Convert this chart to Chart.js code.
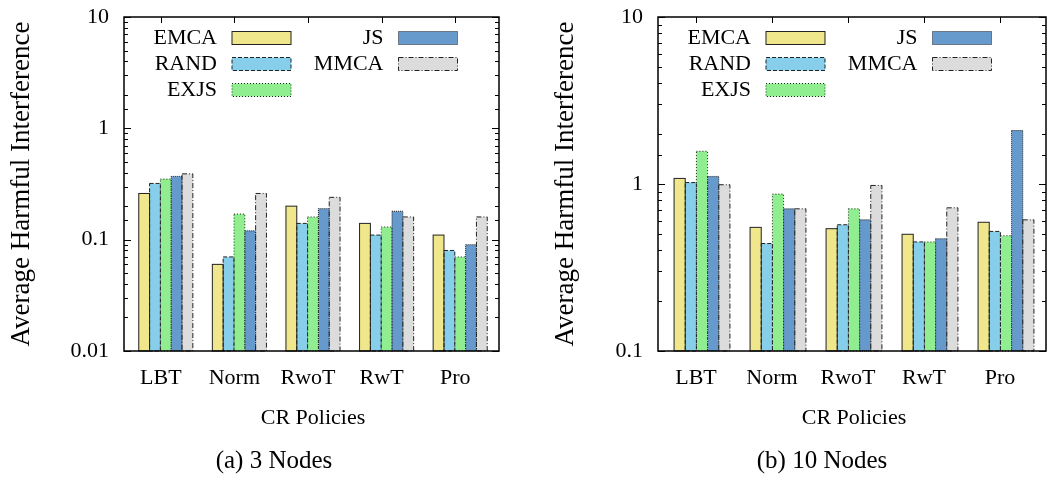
<!DOCTYPE html>
<html>
<head>
<meta charset="utf-8">
<script src="https://cdn.jsdelivr.net/npm/chart.js@4.4.1/dist/chart.umd.min.js"></script>
<style>
body { margin: 0; background: #fff; }
#wrap { position: relative; width: 1048px; height: 480px; }
.panel { position: absolute; top: 0; width: 524px; height: 480px; }
.caption { position: absolute; top: 445px; width: 200px; font: 25px 'Liberation Serif', 'Times New Roman', serif; line-height: 30px; text-align: center; color: #000; }
</style>
</head>
<body>
<div id="wrap">
  <div class="panel" style="left:0">
    <canvas id="chart3" width="524" height="480"></canvas>
    <div class="caption" style="left:174px">(a) 3 Nodes</div>
  </div>
  <div class="panel" style="left:524px">
    <canvas id="chart10" width="524" height="480"></canvas>
    <div class="caption" style="left:198px">(b) 10 Nodes</div>
  </div>
</div>
<script>
// data
const categories = ['LBT', 'Norm', 'RwoT', 'RwT', 'Pro'];
const seriesNames = ['EMCA', 'RAND', 'EXJS', 'JS', 'MMCA'];

const emca3 = [0.26, 0.06, 0.20, 0.14, 0.11];
const rand3 = [0.32, 0.07, 0.14, 0.11, 0.08];
const exjs3 = [0.35, 0.17, 0.16, 0.13, 0.07];
const js3 = [0.37, 0.12, 0.19, 0.18, 0.09];
const mmca3 = [0.39, 0.26, 0.24, 0.16, 0.16];

const emca10 = [1.08, 0.55, 0.54, 0.50, 0.59];
const rand10 = [1.02, 0.44, 0.57, 0.45, 0.52];
const exjs10 = [1.57, 0.87, 0.71, 0.45, 0.49];
const js10 = [1.11, 0.71, 0.61, 0.47, 2.09];
const mmca10 = [0.99, 0.71, 0.98, 0.72, 0.61];

const tickLabels3 = [0.01, 0.1, 1, 10];
const tickLabels10 = [0.1, 1, 10];

// styles
const fills = ['#F0E68C', '#87CEEB', '#90EE90', '#6699CC', '#DCDCDC'];
const dashes = [[], [4, 2], [1, 2], [1, 1], [5, 2, 1, 2]];
const outline = '#222';
const legendSlots = [[0, 0], [1, 0], [2, 0], [0, 1], [1, 1]];

Chart.defaults.font.family = "'Liberation Serif', 'Times New Roman', serif";
Chart.defaults.color = '#000';

const gnuplotLook = {
  id: 'gnuplotLook',
  afterDatasetsDraw(chart, args, opts) {
    const { ctx, chartArea: a, scales: { x, y } } = chart;
    const left = a.left - opts.padLeft, right = a.right + opts.padRight;

    // dashed bar outlines
    chart.data.datasets.forEach((ds, i) => {
      const meta = chart.getDatasetMeta(i);
      ctx.save();
      ctx.strokeStyle = outline;
      ctx.lineWidth = 1;
      ctx.setLineDash(dashes[i]);
      meta.data.forEach(bar => {
        const p = bar.getProps(['x', 'y', 'base', 'width'], true);
        ctx.strokeRect(p.x - p.width / 2, p.y, p.width, p.base - p.y);
      });
      ctx.restore();
    });

    ctx.save();
    ctx.strokeStyle = '#000';
    ctx.lineWidth = 1;
    // inner y ticks, both sides
    y.ticks.forEach(t => {
      const py = Math.round(y.getPixelForValue(t.value)) + 0.5;
      const lg = Math.log10(t.value);
      const len = Math.abs(lg - Math.round(lg)) < 1e-6 ? 7 : 4;
      ctx.beginPath();
      ctx.moveTo(left, py); ctx.lineTo(left + len, py);
      ctx.moveTo(right, py); ctx.lineTo(right - len, py);
      ctx.stroke();
    });
    // x ticks on top border, at the label positions
    categories.forEach((c, i) => {
      const px = Math.round(x.getPixelForValue(i) + opts.labelShift) + 0.5;
      ctx.beginPath();
      ctx.moveTo(px, a.top); ctx.lineTo(px, a.top + 6);
      ctx.stroke();
    });
    // frame
    ctx.lineWidth = 1.5;
    ctx.strokeRect(left, a.top, right - left, a.bottom - a.top);

    // legend
    ctx.font = "22px 'Liberation Serif', 'Times New Roman', serif";
    ctx.textAlign = 'right';
    ctx.textBaseline = 'middle';
    chart.data.datasets.forEach((ds, i) => {
      const [row, col] = legendSlots[i];
      const cy = a.top + 21 + row * 26;
      const tx = left + 93 + col * 166.5;
      ctx.fillStyle = '#000';
      ctx.fillText(ds.label, tx, cy);
      ctx.fillStyle = fills[i];
      ctx.fillRect(tx + 15, cy - 6.5, 59, 13);
      ctx.strokeStyle = outline;
      ctx.lineWidth = 1;
      ctx.setLineDash(dashes[i]);
      ctx.strokeRect(tx + 15, cy - 6.5, 59, 13);
      ctx.setLineDash([]);
    });
    ctx.restore();
  }
};

function makeChart(id, series, tickLabels, yMin, opt) {
  const ctx = document.getElementById(id).getContext('2d');
  return new Chart(ctx, {
    type: 'bar',
    data: {
      labels: categories,
      datasets: series.map((s, i) => ({
        label: seriesNames[i],
        data: s,
        backgroundColor: fills[i],
        borderWidth: 0,
        categoryPercentage: 0.735,
        barPercentage: 1.0
      }))
    },
    options: {
      responsive: false,
      animation: false,
      layout: { padding: { left: 0, right: opt.padRight, top: 17, bottom: 49 } },
      plugins: {
        legend: { display: false },
        tooltip: { enabled: false },
        gnuplotLook: { padLeft: opt.frameLeft, padRight: 2, labelShift: opt.labelShift }
      },
      scales: {
        x: {
          grid: { display: false, drawTicks: false },
          border: { display: false },
          ticks: { font: { size: 22 }, padding: 14, labelOffset: opt.labelShift },
          title: { display: true, text: 'CR Policies', font: { size: 22 }, padding: { top: 0, bottom: 0 } },
          afterFit(s) { s.height = 80; s.paddingLeft = 0; s.paddingRight = 0; }
        },
        y: {
          type: 'logarithmic',
          min: yMin,
          max: 10,
          grid: { display: false, drawTicks: false },
          border: { display: false },
          ticks: {
            autoSkip: false,
            font: { size: 22 },
            padding: opt.tickPad,
            callback: v => {
              const hit = tickLabels.find(l => Math.abs(v - l) / l < 1e-6);
              return hit === undefined ? '' : String(hit);
            }
          },
          title: { display: true, text: 'Average Harmful Interference', font: { size: 27 }, padding: { top: opt.titlePad, bottom: 0 } },
          afterFit(s) { s.width = opt.yWidth; s.paddingTop = 0; s.paddingBottom = 0; }
        }
      }
    },
    plugins: [gnuplotLook]
  });
}

makeChart('chart3', [emca3, rand3, exjs3, js3, mmca3], tickLabels3, 0.01,
  { yWidth: 129, padRight: 27, frameLeft: 5, tickPad: 20, titlePad: 6, labelShift: -5 });
makeChart('chart10', [emca10, rand10, exjs10, js10, mmca10], tickLabels10, 0.1,
  { yWidth: 140, padRight: 4, frameLeft: 6, tickPad: 21, titlePad: 26, labelShift: -6 });
</script>
</body>
</html>
